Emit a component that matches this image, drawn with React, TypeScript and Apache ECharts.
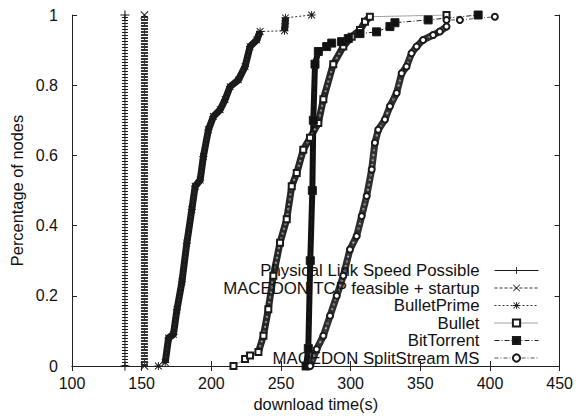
import React, { useEffect, useRef } from "react";
import * as echarts from "echarts";

// ---- data (download time in s, fraction of nodes) ----
const seriesNames = [
  "Physical Link Speed Possible",
  "MACEDON TCP feasible + startup",
  "BulletPrime",
  "Bullet",
  "BitTorrent",
  "MACEDON SplitStream MS",
];

const physicalLink: [number, number][] = [[138, 0], [138, 1]];
const macedonTcp: [number, number][] = [[152, 0], [152, 1]];

const bulletPrime: [number, number][] = [
  [162, 0], [166.9, 0.01], [169.3, 0.08], [172.8, 0.09], [175.3, 0.16], [178.9, 0.24],
  [182.4, 0.35], [186, 0.446], [188.4, 0.512], [192, 0.53], [194.3, 0.597], [197.9, 0.673],
  [201.5, 0.711], [206.3, 0.73], [209.9, 0.759], [213.5, 0.796], [219.4, 0.815], [224.2, 0.853],
  [227.8, 0.91], [232.6, 0.929], [235, 0.953], [252.5, 0.955], [253, 0.975], [253.2, 0.992],
  [272, 1],
];

const bullet: [number, number][] = [
  [215.9, 0], [224.2, 0.02], [227.8, 0.03], [233.8, 0.04], [237.4, 0.086], [240.9, 0.162],
  [244.5, 0.257], [249.3, 0.351], [254.1, 0.418], [257.7, 0.512], [261.3, 0.55], [266, 0.616],
  [270.8, 0.65], [276.8, 0.692], [280.4, 0.76], [287.5, 0.86], [294.7, 0.91], [300.7, 0.938],
  [306.7, 0.957], [310.3, 0.981], [313.8, 0.995], [368.8, 1],
];

const bitTorrent: [number, number][] = [
  [268, 0], [269.6, 0.05], [271, 0.3], [272.5, 0.5], [273.2, 0.7], [274.4, 0.86],
  [276.8, 0.896], [282.8, 0.91], [286.4, 0.92], [293.5, 0.924], [298.3, 0.933], [306.7, 0.947],
  [318.6, 0.952], [328.2, 0.967], [331.8, 0.978], [355.6, 0.986], [391.5, 1],
];

const splitStream: [number, number][] = [
  [271, 0], [275.6, 0.048], [280.4, 0.086], [285.2, 0.143], [290, 0.2], [294.7, 0.257],
  [299.5, 0.332], [304.3, 0.37], [307.9, 0.427], [311.5, 0.484], [315.1, 0.56], [317.4, 0.636],
  [319.8, 0.673], [324.6, 0.702], [328.2, 0.74], [333, 0.778], [336.6, 0.834], [340.1, 0.853],
  [343.7, 0.891], [347.3, 0.91], [352, 0.929], [359.2, 0.943], [364, 0.953], [368.8, 0.967],
  [368.8, 0.986], [378.4, 0.986], [403.5, 0.995],
];

const xMin = 100;
const xMax = 450;
const xStep = 50;
const yMin = 0;
const yMax = 1;
const yStep = 0.2;

// ---- styling helpers ----
const FONT = "Liberation Sans, Arial, Helvetica, sans-serif";
const INK = "#1a1a1a";

const PLUS = "path://M0,4.4h10v1.2h-10z M4.4,0h1.2v10h-1.2z";
const CROSS =
  "path://M0.8,0L10,9.2L9.2,10L0,0.8Z M9.2,0L10,0.8L0.8,10L0,9.2Z";
const STAR =
  "path://M0,4.4h10v1.2h-10z M4.4,0h1.2v10h-1.2z M1.2,0.4L9.6,8.8L8.8,9.6L0.4,1.2Z M8.8,0.4L9.6,1.2L1.2,9.6L0.4,8.8Z";

function pieces(data: [number, number][], ranges: [number, number][]) {
  const out: any[] = [];
  ranges.forEach((r, i) => {
    if (i > 0) out.push("-");
    for (let k = r[0]; k <= r[1]; k++) out.push(data[k]);
  });
  return out;
}

function band(data: any[], width: number, color: string, dash: any = "solid", z = 2) {
  return {
    type: "line",
    data,
    symbol: "none",
    silent: true,
    connectNulls: false,
    z,
    lineStyle: { width, color, type: dash, cap: "butt", join: "round" },
  };
}

function main(name: string, data: any[], symbol: string, size: number, dash: any, lineColor: string, fill: string) {
  return {
    name,
    type: "line",
    data,
    symbol,
    symbolSize: size,
    showSymbol: true,
    silent: true,
    z: 4,
    lineStyle: { width: 1, color: lineColor, type: dash },
    itemStyle: { color: fill, borderColor: INK, borderWidth: symbol.startsWith("path") ? 0 : 1 },
  };
}

export default function App() {
  const ref = useRef<HTMLDivElement>(null);

  useEffect(() => {
    if (!ref.current) return;
    const chart = echarts.init(ref.current, null, { renderer: "svg" });

    const axisCommon = {
      axisLine: { show: true, lineStyle: { color: "#222", width: 1 } },
      axisTick: { show: true, inside: true, length: 5, lineStyle: { color: "#222" } },
      splitLine: { show: false },
    };

    const option: any = {
      animation: false,
      backgroundColor: "#fff",
      textStyle: { fontFamily: FONT },
      grid: { left: 72, right: 16, top: 15, bottom: 50 },
      legend: {
        data: seriesNames,
        orient: "vertical",
        align: "right",
        right: 32,
        top: 257,
        itemWidth: 44,
        itemHeight: 9,
        itemGap: 0.5,
        selectedMode: false,
        lineStyle: { width: 1 },
        textStyle: {
          fontSize: 16.8,
          lineHeight: 16.3,
          color: "#111",
          fontFamily: FONT,
          padding: [0, 10, 0, 0],
        },
      },
      xAxis: [
        {
          ...axisCommon,
          type: "value",
          min: xMin,
          max: xMax,
          interval: xStep,
          name: "download time(s)",
          nameLocation: "middle",
          nameGap: 30,
          nameTextStyle: { fontSize: 16.4, color: "#111", fontFamily: FONT },
          axisLabel: { fontSize: 16, color: "#111", margin: 9, fontFamily: FONT },
        },
        {
          ...axisCommon,
          type: "value",
          position: "top",
          min: xMin,
          max: xMax,
          interval: xStep,
          axisLabel: { show: false },
        },
      ],
      yAxis: [
        {
          ...axisCommon,
          type: "value",
          min: yMin,
          max: yMax,
          interval: yStep,
          name: "Percentage of nodes",
          nameLocation: "middle",
          nameGap: 47,
          nameTextStyle: { fontSize: 16.4, color: "#111", fontFamily: FONT },
          axisLabel: { fontSize: 16, color: "#111", margin: 14, fontFamily: FONT },
        },
        {
          ...axisCommon,
          type: "value",
          position: "right",
          min: yMin,
          max: yMax,
          interval: yStep,
          axisLabel: { show: false },
        },
      ],
      series: [
        // dense marker bands
        band(physicalLink, 6, INK, [1, 2]),
        band(macedonTcp, 7, "#333", [2, 1]),
        band(pieces(bulletPrime, [[1, 20], [21, 23]]), 7, INK),
        band(pieces(bullet, [[3, 20]]), 7, "#262626"),
        band(pieces(bullet, [[3, 20]]), 2, "#aaaaaa", [2, 3], 3),
        band(pieces(bitTorrent, [[0, 6]]), 6, "#111"),
        band(pieces(splitStream, [[0, 23]]), 7, "#2e2e2e"),
        band(pieces(splitStream, [[0, 23]]), 2, "#b0b0b0", [2, 3], 3),
        // series shown in the key
        main(seriesNames[0], physicalLink, PLUS, 9, "solid", INK, INK),
        main(seriesNames[1], macedonTcp, CROSS, 8, [3, 2], "#333", INK),
        main(seriesNames[2], bulletPrime, STAR, 8, [2, 2], "#333", INK),
        main(seriesNames[3], bullet, "emptyRect", 6, [1, 1], "#444", INK),
        main(seriesNames[4], bitTorrent, "rect", 8, [5, 2, 1, 2], "#222", "#111"),
        main(seriesNames[5], splitStream, "emptyCircle", 6, [4, 2, 1, 2], "#555", INK),
      ],
    };

    chart.setOption(option);
    return () => chart.dispose();
  }, []);

  return (
    <div
      ref={ref}
      style={{ position: "absolute", left: 0, top: 0, width: 576, height: 417 }}
    />
  );
}
